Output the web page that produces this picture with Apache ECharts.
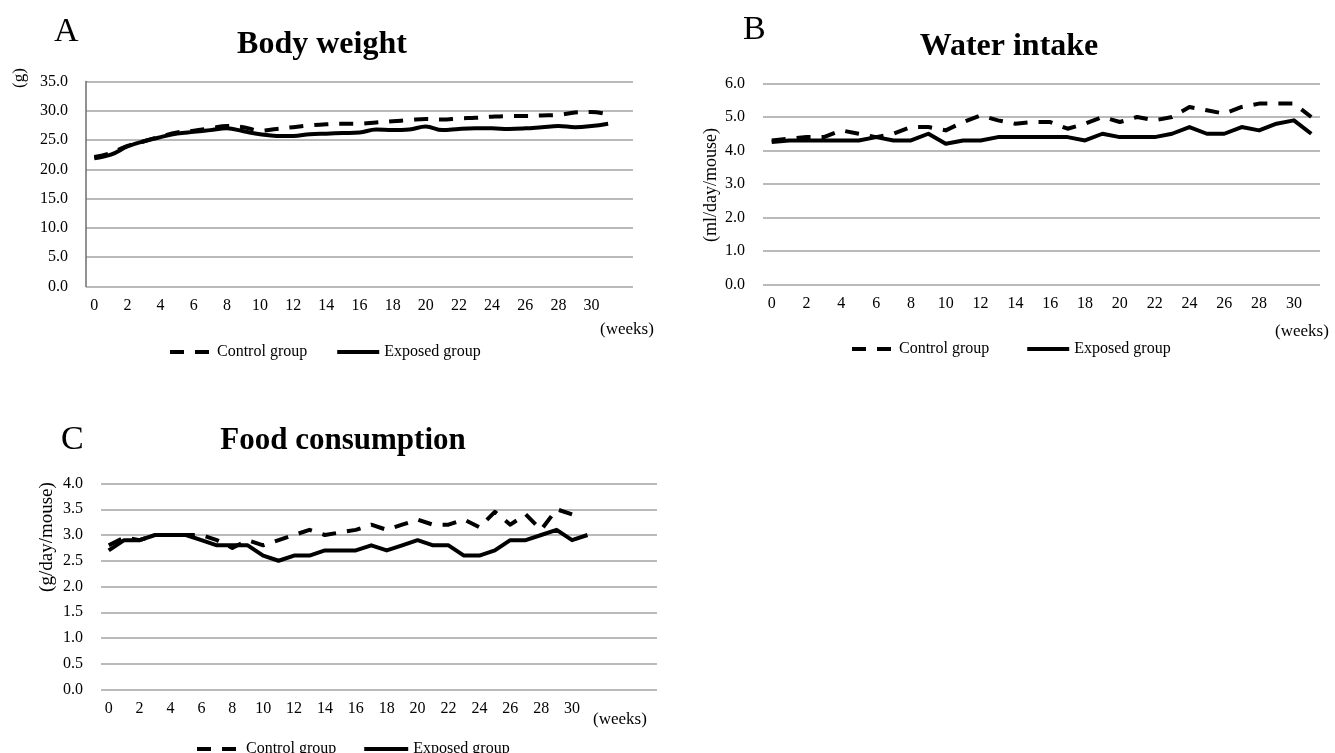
<!DOCTYPE html>
<html>
<head>
<meta charset="utf-8">
<script src="https://cdn.jsdelivr.net/npm/echarts@6/dist/echarts.min.js"></script>
<style>
html,body{margin:0;padding:0;background:#fff;}
#chart{width:1335px;height:753px;}
</style>
</head>
<body>
<div id="chart"></div>
<script>
// ---- categories (weeks) ----
const weeksA = ['0','1','2','3','4','5','6','7','8','9','10','11','12','13','14','15','16','17','18','19','20','21','22','23','24','25','26','27','28','29','30','31','32'];
const weeksB = ['0','1','2','3','4','5','6','7','8','9','10','11','12','13','14','15','16','17','18','19','20','21','22','23','24','25','26','27','28','29','30','31'];
const weeksC = ['0','1','2','3','4','5','6','7','8','9','10','11','12','13','14','15','16','17','18','19','20','21','22','23','24','25','26','27','28','29','30','31','32','33','34','35'];

// ---- A: Body weight (g) ----
const bodyControl = [22.1, 22.8, 24.0, 24.8, 25.6, 26.3, 26.6, 27.0, 27.4, 27.2, 26.6, 26.9, 27.2, 27.5, 27.7, 27.8, 27.8, 28.0, 28.2, 28.4, 28.6, 28.5, 28.7, 28.8, 29.0, 29.1, 29.1, 29.2, 29.3, 29.7, 29.8, 29.4];
const bodyExposed = [21.9, 22.5, 23.9, 24.8, 25.5, 26.1, 26.4, 26.7, 27.0, 26.5, 26.0, 25.7, 25.7, 26.0, 26.1, 26.2, 26.3, 26.8, 26.7, 26.8, 27.3, 26.7, 26.9, 27.0, 27.0, 26.9, 27.0, 27.2, 27.4, 27.2, 27.4, 27.8];

// ---- B: Water intake (ml/day/mouse) ----
const waterControl = [4.3, 4.35, 4.4, 4.4, 4.6, 4.5, 4.4, 4.5, 4.7, 4.7, 4.6, 4.85, 5.05, 4.9, 4.8, 4.85, 4.85, 4.65, 4.8, 5.0, 4.85, 5.0, 4.9, 5.0, 5.3, 5.2, 5.1, 5.3, 5.4, 5.4, 5.4, 5.0];
const waterExposed = [4.25, 4.3, 4.3, 4.3, 4.3, 4.3, 4.4, 4.3, 4.3, 4.5, 4.2, 4.3, 4.3, 4.4, 4.4, 4.4, 4.4, 4.4, 4.3, 4.5, 4.4, 4.4, 4.4, 4.5, 4.7, 4.5, 4.5, 4.7, 4.6, 4.8, 4.9, 4.5];

// ---- C: Food consumption (g/day/mouse) ----
const foodControl = [2.8, 2.95, 2.9, 3.0, 3.0, 3.0, 3.0, 2.9, 2.75, 2.9, 2.8, 2.9, 3.0, 3.1, 3.0, 3.05, 3.1, 3.2, 3.1, 3.2, 3.3, 3.2, 3.2, 3.3, 3.15, 3.45, 3.2, 3.4, 3.1, 3.5, 3.4];
const foodExposed = [2.7, 2.9, 2.9, 3.0, 3.0, 3.0, 2.9, 2.8, 2.8, 2.8, 2.6, 2.5, 2.6, 2.6, 2.7, 2.7, 2.7, 2.8, 2.7, 2.8, 2.9, 2.8, 2.8, 2.6, 2.6, 2.7, 2.9, 2.9, 3.0, 3.1, 2.9, 3.0];

// ---- text ----
const panelLetters = ['A', 'B', 'C'];
const panelTitles = ['Body weight', 'Water intake', 'Food consumption'];
const yNames = ['(g)', '(ml/day/mouse)', '(g/day/mouse)'];
const xName = '(weeks)';
const seriesNames = ['Control group', 'Exposed group'];

const FONT = '"Liberation Serif", "Times New Roman", serif';
const GRID_COLOR = '#a3a3a3';

function weekLabel(v) {
  const n = Number(v);
  return (n % 2 === 0 && n <= 30) ? String(n) : '';
}

function xAxisCfg(gridIndex, data, margin) {
  return {
    type: 'category', gridIndex, data, boundaryGap: true,
    axisLine: { show: false }, axisTick: { show: false },
    axisLabel: { interval: 0, formatter: weekLabel, color: '#000', fontFamily: FONT, fontSize: 16, margin },
    splitLine: { show: false }
  };
}
function yAxisCfg(gridIndex, max, interval, showLine) {
  return {
    type: 'value', gridIndex, min: 0, max, interval,
    axisLine: { show: showLine, lineStyle: { color: '#6e6e6e', width: 1.5 } },
    axisTick: { show: false },
    axisLabel: { formatter: v => v.toFixed(1), color: '#000', fontFamily: FONT, fontSize: 16, margin: 18 },
    splitLine: { show: true, lineStyle: { color: GRID_COLOR, width: 1.5 } }
  };
}
function lineSeries(name, idx, data, dashed, smooth) {
  return {
    name, type: 'line', xAxisIndex: idx, yAxisIndex: idx, data,
    symbol: 'none', smooth: smooth, z: dashed ? 3 : 2,
    lineStyle: { color: '#000', width: 4, type: dashed ? [14, 11] : 'solid', cap: 'butt', join: 'round' },
    itemStyle: { color: '#000' }
  };
}
function legendCfg(left, top, itemWidth, gap) {
  return {
    left, top, orient: 'horizontal', itemWidth, itemHeight: 12, itemGap: gap,
    data: seriesNames, selectedMode: false,
    itemStyle: { opacity: 0 },
    lineStyle: { width: 4 },
    textStyle: { color: '#000', fontFamily: FONT, fontSize: 16 }
  };
}

const chart = echarts.init(document.getElementById('chart'), null, { renderer: 'canvas' });
const option = {
  animation: false,
  backgroundColor: '#fff',
  textStyle: { fontFamily: FONT },
  title: [
    { text: panelLetters[0], left: 54, top: 15, padding: 0, textStyle: { fontFamily: FONT, fontSize: 34, fontWeight: 'normal', color: '#000' } },
    { text: panelTitles[0], left: 322, top: 29, padding: 0, textAlign: 'center', textStyle: { fontFamily: FONT, fontSize: 32, fontWeight: 'bold', color: '#000' } },
    { text: panelLetters[1], left: 743, top: 13, padding: 0, textStyle: { fontFamily: FONT, fontSize: 34, fontWeight: 'normal', color: '#000' } },
    { text: panelTitles[1], left: 1009, top: 31, padding: 0, textAlign: 'center', textStyle: { fontFamily: FONT, fontSize: 32, fontWeight: 'bold', color: '#000' } },
    { text: panelLetters[2], left: 61, top: 423, padding: 0, textStyle: { fontFamily: FONT, fontSize: 34, fontWeight: 'normal', color: '#000' } },
    { text: panelTitles[2], left: 343, top: 425, padding: 0, textAlign: 'center', textStyle: { fontFamily: FONT, fontSize: 31, fontWeight: 'bold', color: '#000' } }
  ],
  legend: [
    legendCfg(163, 339, 42, 28),
    legendCfg(845, 336, 42, 36),
    legendCfg(190, 736, 44, 26)
  ],
  grid: [
    { left: 86, top: 81.5, width: 547, height: 205, containLabel: false },
    { left: 763, top: 83.5, width: 557, height: 201, containLabel: false },
    { left: 101, top: 483.5, width: 556, height: 206, containLabel: false }
  ],
  xAxis: [
    xAxisCfg(0, weeksA, 11),
    xAxisCfg(1, weeksB, 11),
    xAxisCfg(2, weeksC, 11)
  ],
  yAxis: [
    yAxisCfg(0, 35, 5, true),
    yAxisCfg(1, 6, 1, false),
    yAxisCfg(2, 4, 0.5, false)
  ],
  series: [
    lineSeries(seriesNames[0], 0, bodyControl, true, 0.4),
    lineSeries(seriesNames[1], 0, bodyExposed, false, 0.4),
    lineSeries(seriesNames[0], 1, waterControl, true, false),
    lineSeries(seriesNames[1], 1, waterExposed, false, false),
    lineSeries(seriesNames[0], 2, foodControl, true, false),
    lineSeries(seriesNames[1], 2, foodExposed, false, false)
  ],
  graphic: [
    { type: 'text', x: 20, y: 78, rotation: Math.PI / 2, style: { text: yNames[0], font: '17px ' + FONT, fill: '#000', textAlign: 'center', textVerticalAlign: 'middle' } },
    { type: 'text', x: 711, y: 185, rotation: Math.PI / 2, style: { text: yNames[1], font: '18px ' + FONT, fill: '#000', textAlign: 'center', textVerticalAlign: 'middle' } },
    { type: 'text', x: 47, y: 537, rotation: Math.PI / 2, style: { text: yNames[2], font: '19px ' + FONT, fill: '#000', textAlign: 'center', textVerticalAlign: 'middle' } },
    { type: 'text', x: 600, y: 330, style: { text: xName, font: '17px ' + FONT, fill: '#000', textVerticalAlign: 'middle' } },
    { type: 'text', x: 1275, y: 332, style: { text: xName, font: '17px ' + FONT, fill: '#000', textVerticalAlign: 'middle' } },
    { type: 'text', x: 593, y: 720, style: { text: xName, font: '17px ' + FONT, fill: '#000', textVerticalAlign: 'middle' } }
  ]
};
chart.setOption(option);
</script>
</body>
</html>
